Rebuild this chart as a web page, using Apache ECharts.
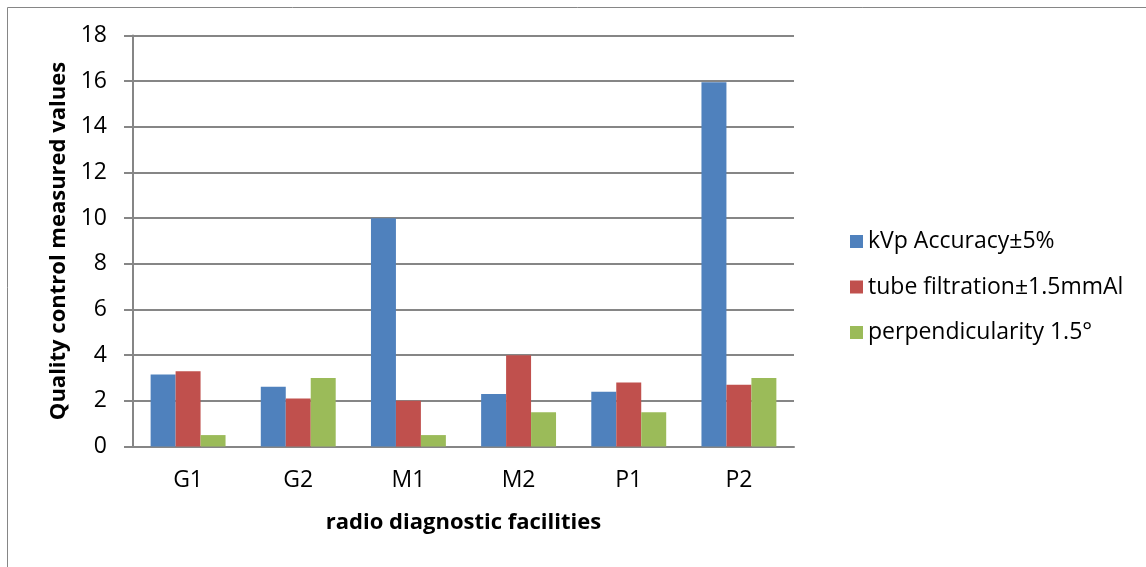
<!DOCTYPE html>
<html><head><meta charset="utf-8">
<script src="https://cdn.jsdelivr.net/npm/echarts@6/dist/echarts.min.js"></script>
<style>html,body{margin:0;padding:0;background:#fff}#c{width:1146px;height:567px}</style>
</head><body><div id="c"></div>
<script>
const categories = ['G1','G2','M1','M2','P1','P2'];
const kvp = [3.15, 2.62, 10.0, 2.3, 2.4, 15.95];
const filtration = [3.3, 2.1, 2.0, 4.0, 2.8, 2.7];
const perpendicularity = [0.5, 3.0, 0.5, 1.5, 1.5, 3.0];
const seriesNames = ['kVp Accuracy±5%', 'tube filtration±1.5mmAl', 'perpendicularity 1.5°'];
const colors = ['#4F81BD', '#C0504D', '#9BBB59'];
const FONT = 'Open Sans';
const chart = echarts.init(document.getElementById('c'));
chart.setOption({
  animation: false,
  textStyle: {fontFamily: FONT},
  graphic: [{type: 'rect', shape: {x: 7.5, y: 7.5, width: 1200, height: 600}, style: {fill: 'none', stroke: '#868686', lineWidth: 1}, silent: true}],
  grid: {left: 133, right: 352, top: 35.5, bottom: 120.5},
  legend: {
    orient: 'vertical', left: 845, top: 225, itemGap: 22.5, itemWidth: 13, itemHeight: 13,
    icon: 'rect',
    textStyle: {fontFamily: FONT, fontSize: 23, color: '#000'},
    data: seriesNames
  },
  xAxis: {
    type: 'category', data: categories,
    name: 'radio diagnostic facilities', nameLocation: 'middle', nameGap: 65,
    nameTextStyle: {fontFamily: FONT, fontSize: 22, fontWeight: 'bold', color: '#000'},
    axisLine: {lineStyle: {color: '#868686', width: 2}},
    axisTick: {show: false},
    axisLabel: {fontFamily: FONT, fontSize: 23, color: '#000', margin: 22}
  },
  yAxis: {
    type: 'value', min: 0, max: 18, interval: 2,
    name: 'Quality control measured values', nameLocation: 'middle', nameGap: 62,
    nameTextStyle: {fontFamily: FONT, fontSize: 22, fontWeight: 'bold', color: '#000'},
    axisLine: {show: true, lineStyle: {color: '#868686', width: 2}},
    axisTick: {show: true, length: 9, lineStyle: {color: '#868686', width: 2}},
    splitLine: {lineStyle: {color: '#868686', width: 2}},
    axisLabel: {fontFamily: FONT, fontSize: 23, color: '#000', margin: 26}
  },
  series: [
    {name: seriesNames[0], type: 'bar', data: kvp, itemStyle: {color: colors[0]}, barGap: '0%', barCategoryGap: '32%'},
    {name: seriesNames[1], type: 'bar', data: filtration, itemStyle: {color: colors[1]}, barGap: '0%', barCategoryGap: '32%'},
    {name: seriesNames[2], type: 'bar', data: perpendicularity, itemStyle: {color: colors[2]}, barGap: '0%', barCategoryGap: '32%'}
  ]
});
</script></body></html>
